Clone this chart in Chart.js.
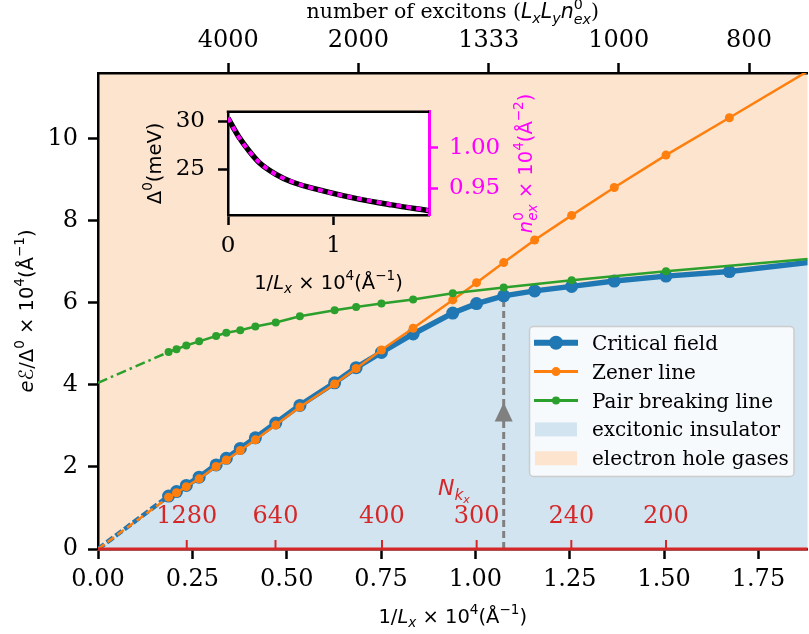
<!DOCTYPE html>
<html>
<head>
<meta charset="utf-8">
<script src="https://cdn.jsdelivr.net/npm/chart.js@4.4.0/dist/chart.umd.min.js"></script>
<style>
  html, body { margin: 0; padding: 0; background: #fff; overflow: hidden; }
  #wrap { position: relative; width: 809px; height: 634px; overflow: hidden; }
  #main { position: absolute; left: 0; top: 0; }
  #inset { position: absolute; left: 140px; top: 85px; }
</style>
</head>
<body>
<div id="wrap">
  <canvas id="main" width="814" height="634"></canvas>
  <canvas id="inset" width="405" height="215"></canvas>
</div>
<script>
// ---- data ----
const invLx = [0.187, 0.208, 0.234, 0.268, 0.313, 0.340, 0.377, 0.417, 0.471, 0.535, 0.627,
               0.684, 0.751, 0.835, 0.940, 1.003, 1.075, 1.157, 1.255, 1.368, 1.505, 1.673, 1.90];
const criticalField = [1.29, 1.40, 1.55, 1.75, 2.05, 2.21, 2.45, 2.71, 3.07, 3.50, 4.05,
                       4.42, 4.79, 5.24, 5.75, 5.98, 6.17, 6.29, 6.40, 6.53, 6.65, 6.76, 7.00];
const zenerLine = [1.26, 1.37, 1.52, 1.71, 2.01, 2.17, 2.40, 2.66, 3.02, 3.46, 4.02,
                   4.40, 4.85, 5.38, 6.07, 6.49, 6.98, 7.53, 8.13, 8.81, 9.60, 10.51, 11.75];
const pairX = [0.187, 0.208, 0.234, 0.268, 0.313, 0.340, 0.377, 0.417, 0.471, 0.535, 0.627,
               0.684, 0.751, 0.835, 0.940, 1.075, 1.255, 1.505, 1.90];
const pairBreaking = [4.80, 4.87, 4.96, 5.06, 5.19, 5.27, 5.33, 5.42, 5.52, 5.67, 5.82,
                      5.90, 5.98, 6.08, 6.23, 6.37, 6.55, 6.77, 7.08];
const criticalIntercept = 0;
const zenerIntercept = 0;
const pairIntercept = 4.05;

const arrowX = 1.075;     // dashed marker line
const arrowTop = 6.17;
const arrowTip = 3.57;

const xTicks = [0, 0.25, 0.5, 0.75, 1.0, 1.25, 1.5, 1.75];
const yTicks = [0, 2, 4, 6, 8, 10];
const excitonCounts = [4000, 2000, 1333, 1000, 800];
const excitonScale = 1380;   // position = excitonScale / count
const nkxLabels = [1280, 640, 400, 300, 240, 200];
const nkxScale = 301;        // position = nkxScale / N

// inset
const insetX = [0, 0.1, 0.2, 0.3, 0.45, 0.6, 0.92, 1.24, 1.55, 1.9];
const insetGap = [30.3, 28.4, 26.9, 25.65, 24.5, 23.7, 22.7, 21.9, 21.3, 20.7];
const insetDensity = [1.0365, 1.0134, 0.9957, 0.9815, 0.9673, 0.9585, 0.9461, 0.9372, 0.9301, 0.9230];
const insetXTicks = [0, 1];
const insetGapTicks = [25, 30];
const insetDensityTicks = [0.95, 1.00];

const BLUE = '#1f77b4', ORANGE = '#ff7f0e', GREEN = '#2ca02c', RED = '#d62728';
const BLUE_FILL = '#d2e4f0', ORANGE_FILL = '#fde4cf', MAGENTA = '#ff00ff';
const SANS = 'DejaVu Sans', SERIF = 'DejaVu Serif';
const TICK_SIZE = 24;

// ---- rich text helper (italics, super/subscripts) ----
function segFont(seg, size) {
  return (seg.it ? 'italic ' : '') + (size * (seg.s || 1)).toFixed(1) + 'px "' + (seg.f || SANS) + '"';
}
function drawRich(ctx, segs, size, cx, cy, color, rot) {
  ctx.save();
  ctx.translate(cx, cy);
  if (rot) ctx.rotate(rot);
  let x = 0, prevStart = 0;
  const items = [];
  for (const seg of segs) {
    ctx.font = segFont(seg, size);
    const w = ctx.measureText(seg.t).width;
    const start = seg.stack ? prevStart : x;
    items.push({ seg, x: start, font: ctx.font });
    x = Math.max(x, start + w);
    prevStart = start;
  }
  ctx.fillStyle = color;
  ctx.textAlign = 'left';
  ctx.textBaseline = 'alphabetic';
  for (const it of items) {
    ctx.font = it.font;
    ctx.fillText(it.seg.t, it.x - x / 2, size * 0.36 - (it.seg.dy || 0) * size);
  }
  ctx.restore();
}
const sup = t => ({ t, s: 0.7, dy: 0.45 });
const sub = t => ({ t, it: true, s: 0.7, dy: -0.22 });

const yTitle = [{ t: 'e', it: true }, { t: 'ℰ' }, { t: '/Δ' }, sup('0'), { t: ' × 10' }, sup('4'),
                { t: '(Å' }, sup('−1'), { t: ')' }];
const xTitle = [{ t: '1/' }, { t: 'L', it: true }, sub('x'), { t: ' × 10' }, sup('4'),
                { t: '(Å' }, sup('−1'), { t: ')' }];
const topTitle = [{ t: 'number of excitons (', f: SERIF }, { t: 'L', it: true }, sub('x'),
                  { t: 'L', it: true }, sub('y'), { t: 'n', it: true }, sup('0'),
                  { t: 'ex', it: true, s: 0.7, dy: -0.25, stack: true }, { t: ')', f: SERIF }];
const nkxTitle = [{ t: 'N', it: true }, { t: 'k', it: true, s: 0.7, dy: -0.25 },
                  { t: 'x', it: true, s: 0.5, dy: -0.4 }];
const gapTitle = [{ t: 'Δ' }, sup('0'), { t: '(meV)' }];
const densTitle = [{ t: 'n', it: true }, sup('0'), { t: 'ex', it: true, s: 0.7, dy: -0.25, stack: true },
                   { t: ' × 10' }, sup('4'), { t: '(Å' }, sup('−2'), { t: ')' }];

const pts = (xs, ys) => xs.map((x, i) => ({ x, y: ys[i] }));

function tickFont(size) {
  return { color: '#000', font: { family: SERIF, size }, autoSkip: false, maxRotation: 0, includeBounds: false };
}
function axisCommon(extra) {
  return Object.assign({
    type: 'linear',
    grid: { drawOnChartArea: false, drawTicks: true, tickLength: 10, tickWidth: 2.5, tickColor: '#000' },
    border: { display: true, color: '#000', width: 2.5 }
  }, extra);
}

// ---- main chart ----
const mainPlugin = {
  id: 'decor',
  beforeDraw(chart) {
    const { ctx, chartArea: a } = chart;
    ctx.save();
    ctx.fillStyle = ORANGE_FILL;
    ctx.fillRect(a.left, a.top, a.right - a.left, a.bottom - a.top);
    ctx.restore();
  },
  afterDatasetsDraw(chart) {
    const { ctx, chartArea: a, scales } = chart;
    const xs = scales.x, ys = scales.y;
    const y0 = ys.getPixelForValue(0);
    ctx.save();
    // arrow head
    const ax = xs.getPixelForValue(arrowX), ay = ys.getPixelForValue(arrowTip);
    ctx.fillStyle = '#808080';
    ctx.beginPath();
    ctx.moveTo(ax, ay); ctx.lineTo(ax - 9, ay + 19); ctx.lineTo(ax + 9, ay + 19); ctx.closePath();
    ctx.fill();
    // N_kx axis at y = 0
    ctx.strokeStyle = RED;
    ctx.lineWidth = 3;
    ctx.beginPath(); ctx.moveTo(a.left, y0); ctx.lineTo(a.right, y0); ctx.stroke();
    ctx.lineWidth = 2;
    ctx.fillStyle = RED;
    ctx.font = TICK_SIZE + 'px "' + SERIF + '"';
    ctx.textAlign = 'center';
    ctx.textBaseline = 'alphabetic';
    nkxLabels.forEach(n => {
      const px = xs.getPixelForValue(nkxScale / n);
      ctx.beginPath(); ctx.moveTo(px, y0); ctx.lineTo(px, y0 - 9); ctx.stroke();
      ctx.fillText(String(n), px, y0 - 26);
    });
    drawRich(ctx, nkxTitle, 22, xs.getPixelForValue(0.943), ys.getPixelForValue(1.52), RED);
    ctx.restore();
  },
  afterDraw(chart) {
    const { ctx, chartArea: a } = chart;
    const cx = (a.left + a.right) / 2;
    drawRich(ctx, yTitle, 19.5, 26, (a.top + a.bottom) / 2, '#000', -Math.PI / 2);
    drawRich(ctx, xTitle, 19.5, cx, 616, '#000');
    drawRich(ctx, topTitle, 20.5, cx, 11, '#000');
    drawLegend(ctx);
  }
};

function drawLegend(ctx) {
  const bx = 529.5, by = 326.5, bw = 264.5, bh = 150;
  ctx.save();
  ctx.beginPath();
  ctx.roundRect(bx, by, bw, bh, 4);
  ctx.fillStyle = 'rgba(255,255,255,0.8)';
  ctx.fill();
  ctx.strokeStyle = '#cccccc';
  ctx.lineWidth = 1.5;
  ctx.stroke();
  const rows = [
    { label: 'Critical field', line: BLUE, w: 6, r: 7 },
    { label: 'Zener line', line: ORANGE, w: 3, r: 4.5 },
    { label: 'Pair breaking line', line: GREEN, w: 3, r: 4 },
    { label: 'excitonic insulator', patch: BLUE_FILL },
    { label: 'electron hole gases', patch: ORANGE_FILL }
  ];
  const x0 = 534, x1 = 578, tx = 592;
  rows.forEach((r, i) => {
    const y = 342.7 + i * 28.9;
    if (r.patch) {
      ctx.fillStyle = r.patch;
      ctx.fillRect(x0 + 1, y - 7, x1 - x0 - 2, 14);
    } else {
      ctx.strokeStyle = r.line; ctx.lineWidth = r.w;
      ctx.beginPath(); ctx.moveTo(x0, y); ctx.lineTo(x1, y); ctx.stroke();
      ctx.fillStyle = r.line;
      ctx.beginPath(); ctx.arc((x0 + x1) / 2, y, r.r, 0, Math.PI * 2); ctx.fill();
    }
    ctx.fillStyle = '#000';
    ctx.font = '20px "' + SERIF + '"';
    ctx.textAlign = 'left';
    ctx.textBaseline = 'alphabetic';
    ctx.fillText(r.label, tx, y + 7);
  });
  ctx.restore();
}

const lineDs = (data, color, width, radius, order, dash) => ({
  data, borderColor: color, backgroundColor: color, borderWidth: width,
  pointRadius: radius, pointBorderWidth: 0, pointHoverRadius: 0, order,
  borderDash: dash || [], fill: false, tension: 0
});

new Chart(document.getElementById('main'), {
  type: 'line',
  data: {
    datasets: [
      lineDs(pts(pairX, pairBreaking), GREEN, 2.5, 4, 1),
      lineDs([{ x: 0, y: pairIntercept }, { x: pairX[0], y: pairBreaking[0] }], GREEN, 2.5, 0, 2, [10, 4, 2.5, 4]),
      lineDs(pts(invLx, zenerLine), ORANGE, 2.5, 4.5, 3),
      lineDs([{ x: 0, y: zenerIntercept }, { x: invLx[0], y: zenerLine[0] }], ORANGE, 2.5, 0, 4, [8, 4]),
      lineDs(pts(invLx, criticalField), BLUE, 5.5, 6.5, 5),
      lineDs([{ x: 0, y: criticalIntercept }, { x: invLx[0], y: criticalField[0] }], BLUE, 4.5, 0, 6, [8, 3]),
      lineDs([{ x: arrowX, y: 0 }, { x: arrowX, y: arrowTop }], '#808080', 3, 0, 7, [7, 4]),
      Object.assign(lineDs([{ x: 0, y: criticalIntercept }].concat(pts(invLx, criticalField)), BLUE_FILL, 0, 0, 20),
                    { fill: 'origin', backgroundColor: BLUE_FILL })
    ]
  },
  options: {
    responsive: false,
    animation: false,
    events: [],
    layout: { padding: 0 },
    plugins: { legend: { display: false }, tooltip: { enabled: false } },
    scales: {
      x: axisCommon({
        position: 'bottom', min: 0, max: 1.88,
        afterBuildTicks: ax => { ax.ticks = xTicks.map(v => ({ value: v })); },
        afterFit: ax => { ax.height = 85; },
        ticks: Object.assign(tickFont(TICK_SIZE), { padding: 6, callback: v => v.toFixed(2) })
      }),
      x2: axisCommon({
        position: 'top', min: 0, max: 1.88, z: 1,
        afterBuildTicks: ax => { ax.ticks = excitonCounts.map(n => ({ value: excitonScale / n })); },
        afterFit: ax => { ax.height = 73; },
        ticks: Object.assign(tickFont(TICK_SIZE), { padding: 8, callback: (v, i) => String(excitonCounts[i]) })
      }),
      y: axisCommon({
        position: 'left', min: 0, max: 11.6, z: 1,
        afterBuildTicks: ax => { ax.ticks = yTicks.map(v => ({ value: v })); },
        afterFit: ax => { ax.width = 98; },
        ticks: Object.assign(tickFont(TICK_SIZE), { padding: 10, callback: v => String(v) })
      })
    }
  },
  plugins: [mainPlugin]
});

// ---- inset ----
const insetPlugin = {
  id: 'insetDecor',
  beforeDraw(chart) {
    const { ctx, chartArea: a } = chart;
    ctx.save();
    ctx.fillStyle = '#fff';
    ctx.fillRect(a.left, a.top, a.right - a.left, a.bottom - a.top);
    ctx.restore();
  },
  afterDraw(chart) {
    const { ctx, chartArea: a } = chart;
    ctx.save();
    ctx.strokeStyle = '#000'; ctx.lineWidth = 2.5;
    ctx.beginPath(); ctx.moveTo(a.left - 1.25, a.top); ctx.lineTo(a.right, a.top); ctx.stroke();
    ctx.restore();
    const cy = (a.top + a.bottom) / 2;
    drawRich(ctx, gapTitle, 19.5, 14, cy, '#000', -Math.PI / 2);
    drawRich(ctx, densTitle, 19.5, 385, cy, MAGENTA, -Math.PI / 2);
    drawRich(ctx, xTitle, 19.5, (a.left + a.right) / 2, 197, '#000');
  }
};

new Chart(document.getElementById('inset'), {
  type: 'line',
  data: {
    datasets: [
      Object.assign(lineDs(pts(insetX, insetDensity), MAGENTA, 4, 0, 1, [5, 5]), { yAxisID: 'yR', cubicInterpolationMode: 'monotone' }),
      Object.assign(lineDs(pts(insetX, insetGap), '#000', 5.5, 0, 2), { yAxisID: 'yL', cubicInterpolationMode: 'monotone' })
    ]
  },
  options: {
    responsive: false,
    animation: false,
    events: [],
    layout: { padding: { top: 11 } },
    plugins: { legend: { display: false }, tooltip: { enabled: false } },
    scales: {
      x: axisCommon({
        position: 'bottom', min: 0, max: 1.903, z: 1,
        afterBuildTicks: ax => { ax.ticks = insetXTicks.map(v => ({ value: v })); },
        afterFit: ax => { ax.height = 85; },
        ticks: Object.assign(tickFont(23), { padding: 7, callback: v => String(v) })
      }),
      yL: axisCommon({
        position: 'left', min: 20.25, max: 30.96, z: 1,
        afterBuildTicks: ax => { ax.ticks = insetGapTicks.map(v => ({ value: v })); },
        afterFit: ax => { ax.width = 88; },
        ticks: Object.assign(tickFont(23), { padding: 13, callback: v => String(v) })
      }),
      yR: axisCommon({
        position: 'right', min: 0.9173, max: 1.0439, z: 1,
        border: { display: true, color: MAGENTA, width: 3 },
        grid: { drawOnChartArea: false, drawTicks: true, tickLength: 9, tickWidth: 2.5, tickColor: MAGENTA },
        afterBuildTicks: ax => { ax.ticks = insetDensityTicks.map(v => ({ value: v })); },
        afterFit: ax => { ax.width = 116; },
        ticks: Object.assign(tickFont(23), { padding: 11, color: MAGENTA, callback: v => v.toFixed(2) })
      })
    }
  },
  plugins: [insetPlugin]
});
</script>
</body>
</html>
